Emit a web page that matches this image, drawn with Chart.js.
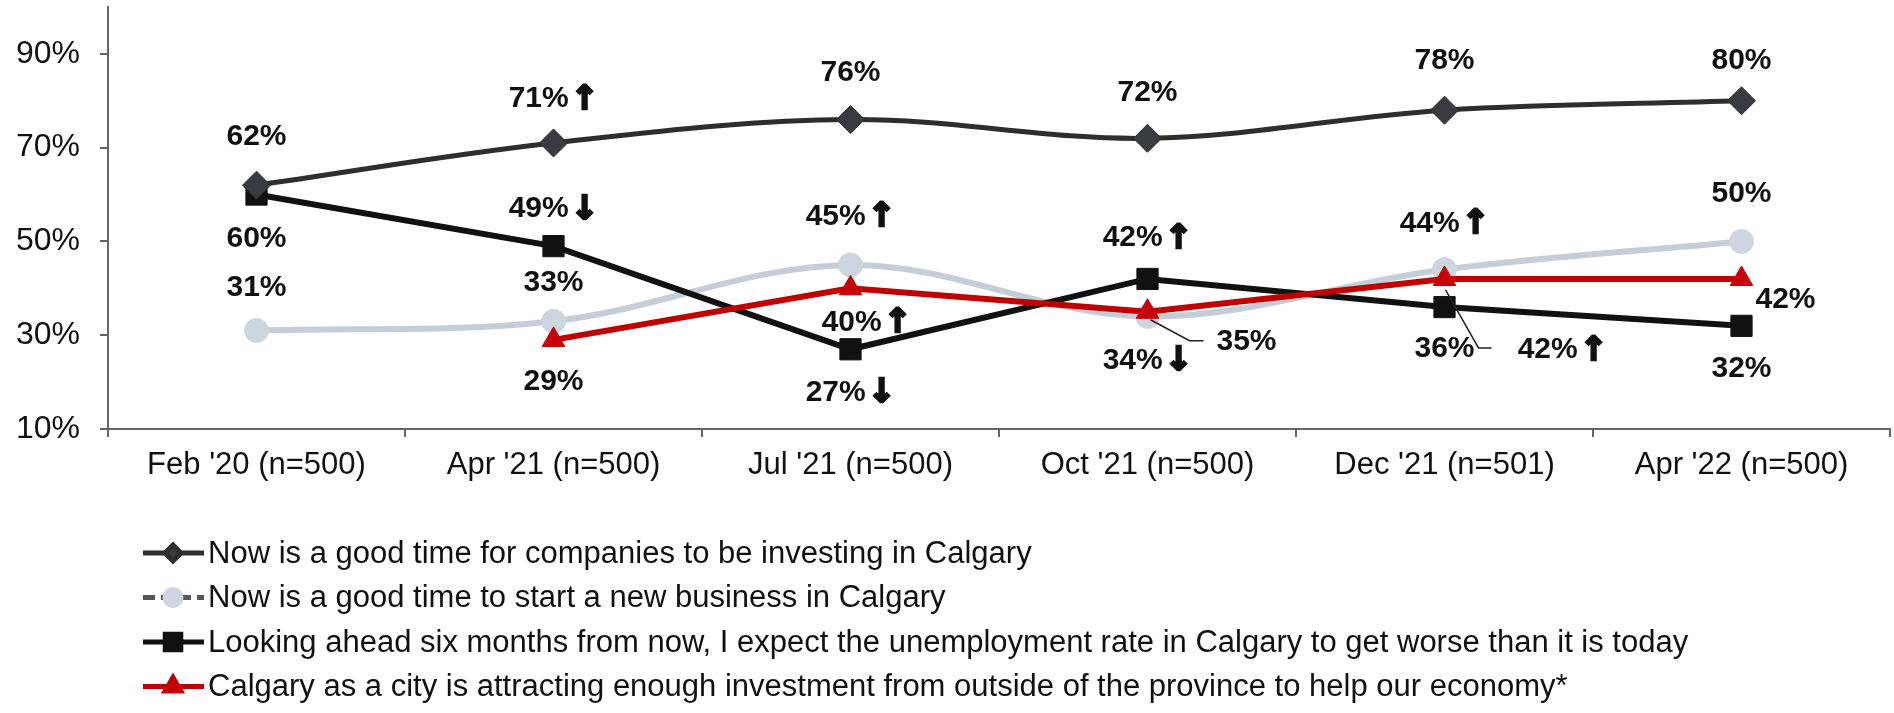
<!DOCTYPE html>
<html>
<head>
<meta charset="utf-8">
<script src="https://cdn.jsdelivr.net/npm/chart.js@4.4.1/dist/chart.umd.min.js"></script>
<style>
  html, body { margin: 0; padding: 0; background: #fff; }
  #wrap { width: 1894px; height: 713px; }
</style>
</head>
<body>
<div id="wrap"><canvas id="trendChart" width="1894" height="713"></canvas></div>
<script>
// survey waves
const waves = ["Feb '20 (n=500)", "Apr '21 (n=500)", "Jul '21 (n=500)", "Oct '21 (n=500)", "Dec '21 (n=501)", "Apr '22 (n=500)"];

const seriesNames = [
    "Now is a good time for companies to be investing in Calgary",
    "Now is a good time to start a new business in Calgary",
    "Looking ahead six months from now, I expect the unemployment rate in Calgary to get worse than it is today",
    "Calgary as a city is attracting enough investment from outside of the province to help our economy*"
];

const investingNow = [62, 71, 76, 72, 78, 80];
const startBusiness = [31, 33, 45, 34, 44, 50];
const unemploymentWorse = [60, 49, 27, 42, 36, 32];
const attractingInvestment = [null, 29, 40, 35, 42, 42];

// significance arrows next to the labels
const investingArrows = ["", "↑", "", "", "", ""];
const businessArrows = ["", "", "↑", "↓", "↑", ""];
const unemploymentArrows = ["", "↓", "↓", "↑", "", ""];
const attractingArrows = ["", "", "↑", "", "↑", ""];

const yTicks = [10, 30, 50, 70, 90];

const FONT = "'Liberation Sans', Arial, sans-serif";
const ARROW_FONT = "bold 33px 'DejaVu Sans', sans-serif";

// value labels (+ leader lines) drawn next to each point
const pointLabels = {
    id: "pointLabels",
    afterDatasetsDraw(chart) {
        const ctx = chart.ctx;
        const valueFont = "bold 30px " + FONT;
        ctx.save();
        ctx.textBaseline = "middle";
        ctx.textAlign = "left";
        chart.data.datasets.forEach(function (ds, i) {
            const meta = chart.getDatasetMeta(i);
            ds.data.forEach(function (v, j) {
                if (v == null) return;
                const pt = meta.data[j];
                const off = ds.labelOffsets[j];
                const lead = ds.leaders ? ds.leaders[j] : null;
                if (lead) {
                    ctx.strokeStyle = "#222";
                    ctx.lineWidth = 1.5;
                    ctx.beginPath();
                    lead.forEach(function (p, k) {
                        if (k === 0) ctx.moveTo(pt.x + p[0], pt.y + p[1]);
                        else ctx.lineTo(pt.x + p[0], pt.y + p[1]);
                    });
                    ctx.stroke();
                }
                const txt = v + "%";
                const arrow = ds.arrows[j];
                ctx.font = valueFont;
                const w1 = ctx.measureText(txt).width;
                ctx.font = ARROW_FONT;
                const w2 = arrow ? ctx.measureText(arrow).width + 2 : 0;
                const x = pt.x + off[0] - (w1 + w2) / 2;
                const y = pt.y + off[1];
                ctx.fillStyle = "#111";
                ctx.font = valueFont;
                ctx.fillText(txt, x, y);
                if (arrow) {
                    ctx.font = ARROW_FONT;
                    ctx.strokeStyle = "#111";
                    ctx.lineWidth = 2.5;
                    ctx.fillText(arrow, x + w1 + 2, y + 1);
                    ctx.strokeText(arrow, x + w1 + 2, y + 1);
                }
            });
        });
        ctx.restore();
    }
};

// one legend entry per row, under the x axis
const rowLegend = {
    id: "rowLegend",
    afterDraw(chart) {
        const ctx = chart.ctx;
        const top = chart.chartArea.bottom + 124;
        ctx.save();
        ctx.font = "31px " + FONT;
        ctx.textBaseline = "middle";
        ctx.textAlign = "left";
        chart.data.datasets.forEach(function (ds, i) {
            const y = top + i * 44.5;
            ctx.strokeStyle = ds.legendLine || ds.borderColor;
            ctx.lineWidth = 5;
            ctx.setLineDash(ds.legendDash || []);
            ctx.beginPath();
            ctx.moveTo(143, y);
            ctx.lineTo(204, y);
            ctx.stroke();
            ctx.setLineDash([]);
            ctx.fillStyle = ds.pointBackgroundColor;
            ctx.strokeStyle = ds.pointBorderColor;
            Chart.helpers.drawPoint(ctx, {
                pointStyle: ds.pointStyle,
                radius: ds.legendRadius,
                rotation: 0,
                borderWidth: 1
            }, 173, y);
            ctx.fillStyle = "#111";
            ctx.fillText(ds.label, 208, y + 1);
        });
        ctx.restore();
    }
};

new Chart(document.getElementById("trendChart"), {
    type: "line",
    data: {
        labels: waves,
        datasets: [{
            label: seriesNames[0],
            data: investingNow,
            arrows: investingArrows,
            labelOffsets: [[0, -48], [0, -44], [0, -47], [0, -46], [0, -49], [0, -40]],
            borderColor: "#2e2e2e",
            borderWidth: 5,
            tension: .35,
            pointStyle: "rectRot",
            pointRadius: 14,
            pointBackgroundColor: "#3a3b40",
            pointBorderColor: "#2e2e2e",
            pointBorderWidth: 1,
            legendRadius: 8,
            order: 1
        }, {
            label: seriesNames[1],
            data: startBusiness,
            arrows: businessArrows,
            labelOffsets: [[0, -43], [0, -38], [0, -48], [0, 44], [0, -46], [0, -48]],
            borderColor: "#c5cdd9",
            borderWidth: 6,
            tension: .35,
            pointStyle: "circle",
            pointRadius: 12,
            pointBackgroundColor: "#cdd5e0",
            pointBorderColor: "#cdd5e0",
            pointBorderWidth: 1,
            legendRadius: 8,
            legendLine: "#555",
            legendDash: [12, 6],
            order: 3
        }, {
            label: seriesNames[2],
            data: unemploymentWorse,
            arrows: unemploymentArrows,
            labelOffsets: [[0, 44], [0, -37], [0, 43], [0, -41], [0, 42], [0, 43]],
            borderColor: "#111111",
            borderWidth: 6,
            tension: 0,
            pointStyle: "rect",
            pointRadius: 15,
            pointBackgroundColor: "#111111",
            pointBorderColor: "#111111",
            pointBorderWidth: 1,
            legendRadius: 11,
            order: 2
        }, {
            label: seriesNames[3],
            data: attractingInvestment,
            arrows: attractingArrows,
            labelOffsets: [[0, 0], [0, 42], [16, 34], [99, 30], [118, 71], [44, 21]],
            leaders: [null, null, null, [[3, 8], [42, 29], [56, 29]], [[1, 11], [34, 69], [47, 69]], null],
            borderColor: "#c00000",
            borderWidth: 6,
            tension: 0,
            pointStyle: "triangle",
            pointRadius: 13,
            pointBackgroundColor: "#c8000a",
            pointBorderColor: "#c00000",
            pointBorderWidth: 1,
            legendRadius: 9,
            order: 0
        }]
    },
    options: {
        responsive: false,
        animation: false,
        layout: {
            autoPadding: false,
            padding: { top: 7, right: 4, left: 0, bottom: 0 }
        },
        plugins: {
            legend: { display: false },
            tooltip: { enabled: false }
        },
        scales: {
            x: {
                offset: true,
                grid: {
                    display: true,
                    drawOnChartArea: false,
                    offset: true,
                    tickLength: 8,
                    color: "#666",
                    lineWidth: 2
                },
                border: { color: "#666", width: 2 },
                ticks: {
                    color: "#111",
                    font: { family: FONT, size: 31 },
                    padding: 10,
                    maxRotation: 0,
                    autoSkip: false
                },
                afterFit: function (scale) {
                    scale.height = 284;
                    scale.paddingLeft = 0;
                    scale.paddingRight = 0;
                }
            },
            y: {
                min: 10,
                max: 100,
                afterBuildTicks: function (scale) {
                    scale.ticks = yTicks.map(function (v) { return { value: v }; });
                },
                grid: {
                    drawOnChartArea: false,
                    tickLength: 8,
                    color: "#666",
                    lineWidth: 2
                },
                border: { color: "#666", width: 2 },
                ticks: {
                    color: "#111",
                    font: { family: FONT, size: 32 },
                    padding: 20,
                    callback: function (v) { return v + "%"; }
                },
                afterFit: function (scale) {
                    scale.width = 108;
                    scale.paddingTop = 0;
                    scale.paddingBottom = 0;
                }
            }
        }
    },
    plugins: [pointLabels, rowLegend]
});
</script>
</body>
</html>
